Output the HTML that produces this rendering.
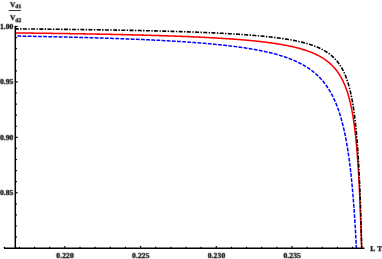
<!DOCTYPE html>
<html><head><meta charset="utf-8"><title>Plot</title>
<style>
html,body{margin:0;padding:0;background:#fff;}
body{width:382px;height:259px;overflow:hidden;position:relative;font-family:"Liberation Serif",serif;}
</style></head>
<body>
<svg width="382" height="259" viewBox="0 0 382 259" style="position:absolute;left:0;top:0">
<defs><filter id="soft" x="-5%" y="-20%" width="110%" height="140%"><feConvolveMatrix order="3" kernelMatrix="0.1 0.8 0.1 0.8 8 0.8 0.1 0.8 0.1" divisor="11.6" edgeMode="none" preserveAlpha="false"/></filter></defs>
<rect width="382" height="259" fill="#fff"/>
<path d="M15.30,32.92 L16.32,32.93 L17.35,32.95 L18.37,32.96 L19.39,32.97 L20.42,32.98 L21.44,32.99 L22.46,33.00 L23.48,33.02 L24.51,33.03 L25.53,33.04 L26.55,33.05 L27.58,33.06 L28.60,33.08 L29.62,33.09 L30.65,33.10 L31.67,33.11 L32.69,33.13 L33.71,33.14 L34.74,33.15 L35.76,33.17 L36.78,33.18 L37.81,33.19 L38.83,33.20 L39.85,33.22 L40.88,33.23 L41.90,33.24 L42.92,33.26 L43.94,33.27 L44.97,33.28 L45.99,33.30 L47.01,33.31 L48.04,33.33 L49.06,33.34 L50.08,33.35 L51.11,33.37 L52.13,33.38 L53.15,33.40 L54.17,33.41 L55.20,33.42 L56.22,33.44 L57.24,33.45 L58.27,33.47 L59.29,33.48 L60.31,33.50 L61.34,33.51 L62.36,33.53 L63.38,33.54 L64.40,33.56 L65.43,33.57 L66.45,33.59 L67.47,33.60 L68.50,33.62 L69.52,33.64 L70.54,33.65 L71.56,33.67 L72.59,33.68 L73.61,33.70 L74.63,33.72 L75.66,33.73 L76.68,33.75 L77.70,33.77 L78.73,33.78 L79.75,33.80 L80.77,33.82 L81.79,33.83 L82.82,33.85 L83.84,33.87 L84.86,33.89 L85.89,33.90 L86.91,33.92 L87.93,33.94 L88.96,33.96 L89.98,33.98 L91.00,33.99 L92.02,34.01 L93.05,34.03 L94.07,34.05 L95.09,34.07 L96.12,34.09 L97.14,34.11 L98.16,34.12 L99.18,34.14 L100.21,34.16 L101.23,34.18 L102.25,34.20 L103.28,34.22 L104.30,34.24 L105.32,34.26 L106.34,34.28 L107.37,34.30 L108.39,34.33 L109.41,34.35 L110.44,34.37 L111.46,34.39 L112.48,34.41 L113.50,34.43 L114.53,34.45 L115.55,34.47 L116.57,34.50 L117.60,34.52 L118.62,34.54 L119.64,34.56 L120.66,34.59 L121.69,34.61 L122.71,34.63 L123.73,34.66 L124.76,34.68 L125.78,34.70 L126.80,34.73 L127.82,34.75 L128.85,34.78 L129.87,34.80 L130.89,34.82 L131.92,34.85 L132.94,34.87 L133.96,34.90 L134.98,34.93 L136.01,34.95 L137.03,34.98 L138.05,35.00 L139.07,35.03 L140.10,35.06 L141.12,35.08 L142.14,35.11 L143.17,35.14 L144.19,35.17 L145.21,35.19 L146.23,35.22 L147.26,35.25 L148.28,35.28 L149.30,35.31 L150.32,35.34 L151.35,35.37 L152.37,35.40 L153.39,35.43 L154.42,35.46 L155.44,35.49 L156.46,35.52 L157.48,35.55 L158.51,35.58 L159.53,35.61 L160.55,35.64 L161.57,35.68 L162.60,35.71 L163.62,35.74 L164.64,35.77 L165.66,35.81 L166.69,35.84 L167.71,35.88 L168.73,35.91 L169.75,35.95 L170.78,35.98 L171.80,36.02 L172.82,36.05 L173.84,36.09 L174.87,36.13 L175.89,36.16 L176.91,36.20 L177.93,36.24 L178.96,36.28 L179.98,36.32 L181.00,36.36 L182.02,36.39 L183.04,36.43 L184.07,36.48 L185.09,36.52 L186.11,36.56 L187.13,36.60 L188.16,36.64 L189.18,36.68 L190.20,36.73 L191.22,36.77 L192.24,36.81 L193.27,36.86 L194.29,36.90 L195.31,36.95 L196.33,37.00 L197.36,37.04 L198.38,37.09 L199.40,37.14 L200.42,37.19 L201.44,37.24 L202.46,37.29 L203.49,37.34 L204.51,37.39 L205.53,37.44 L206.55,37.49 L207.57,37.54 L208.60,37.60 L209.62,37.65 L210.64,37.70 L211.66,37.76 L212.68,37.82 L213.70,37.87 L214.73,37.93 L215.75,37.99 L216.77,38.05 L217.79,38.11 L218.81,38.17 L219.83,38.23 L220.85,38.29 L221.87,38.36 L222.90,38.42 L223.92,38.48 L224.94,38.55 L225.96,38.62 L226.98,38.68 L228.00,38.75 L229.02,38.82 L230.04,38.89 L231.06,38.96 L232.08,39.04 L233.10,39.11 L234.12,39.19 L235.14,39.26 L236.16,39.34 L237.18,39.42 L238.20,39.50 L239.22,39.58 L240.24,39.66 L241.26,39.74 L242.28,39.83 L243.30,39.91 L244.32,40.00 L245.34,40.09 L246.36,40.18 L247.38,40.27 L248.40,40.36 L249.42,40.46 L250.43,40.55 L251.45,40.65 L252.47,40.75 L253.49,40.85 L254.51,40.95 L255.53,41.06 L256.54,41.17 L257.56,41.27 L258.58,41.38 L259.59,41.50 L260.61,41.61 L261.63,41.73 L262.64,41.85 L263.66,41.97 L264.68,42.09 L265.69,42.22 L266.71,42.34 L267.72,42.47 L268.73,42.61 L269.75,42.74 L270.76,42.88 L271.78,43.02 L272.79,43.17 L273.80,43.31 L274.81,43.46 L275.82,43.62 L276.84,43.77 L277.85,43.93 L278.86,44.10 L279.87,44.26 L280.87,44.43 L281.88,44.61 L282.89,44.79 L283.90,44.97 L284.90,45.16 L285.91,45.35 L286.91,45.54 L287.91,45.74 L288.92,45.95 L289.92,46.16 L290.92,46.37 L291.92,46.59 L292.92,46.82 L293.91,47.05 L294.91,47.29 L295.90,47.53 L296.89,47.78 L297.88,48.04 L298.87,48.30 L299.86,48.57 L300.84,48.85 L301.83,49.13 L302.81,49.42 L303.79,49.73 L304.76,50.03 L305.73,50.35 L306.70,50.68 L307.67,51.01 L308.63,51.36 L309.59,51.71 L310.55,52.08 L311.50,52.46 L312.45,52.84 L313.39,53.24 L314.33,53.65 L315.26,54.07 L316.18,54.51 L317.10,54.95 L318.02,55.41 L318.93,55.89 L319.82,56.37 L320.72,56.88 L321.60,57.39 L322.48,57.92 L323.34,58.47 L324.20,59.03 L325.04,59.60 L325.88,60.19 L326.70,60.80 L327.52,61.42 L328.32,62.06 L329.10,62.71 L329.88,63.38 L330.64,64.06 L331.39,64.76 L332.12,65.47 L332.84,66.20 L333.54,66.95 L334.23,67.70 L334.90,68.47 L335.56,69.26 L336.20,70.05 L336.83,70.86 L337.44,71.69 L338.03,72.52 L338.61,73.36 L339.17,74.22 L339.72,75.08 L340.25,75.96 L340.77,76.84 L341.27,77.73 L341.76,78.63 L342.23,79.54 L342.69,80.45 L343.14,81.37 L343.57,82.30 L343.99,83.23 L344.40,84.17 L344.80,85.11 L345.18,86.06 L345.56,87.01 L345.92,87.97 L346.27,88.93 L346.61,89.89 L346.95,90.86 L347.27,91.83 L347.58,92.80 L347.89,93.78 L348.18,94.76 L348.47,95.74 L348.75,96.73 L349.02,97.71 L349.29,98.70 L349.54,99.69 L349.79,100.68 L350.04,101.68 L350.28,102.67 L350.51,103.67 L350.73,104.67 L350.95,105.67 L351.16,106.67 L351.37,107.67 L351.57,108.67 L351.77,109.67 L351.97,110.68 L352.15,111.68 L352.34,112.69 L352.52,113.70 L352.69,114.71 L352.86,115.71 L353.03,116.72 L353.19,117.73 L353.35,118.74 L353.51,119.76 L353.66,120.77 L353.81,121.78 L353.95,122.79 L354.10,123.81 L354.24,124.82 L354.37,125.83 L354.51,126.85 L354.64,127.86 L354.77,128.88 L354.89,129.89 L355.01,130.91 L355.13,131.92 L355.25,132.94 L355.37,133.96 L355.48,134.97 L355.59,135.99 L355.70,137.01 L355.81,138.03 L355.91,139.04 L356.02,140.06 L356.12,141.08 L356.22,142.10 L356.31,143.12 L356.41,144.13 L356.50,145.15 L356.59,146.17 L356.68,147.19 L356.77,148.21 L356.86,149.23 L356.95,150.25 L357.03,151.27 L357.11,152.29 L357.19,153.31 L357.28,154.33 L357.35,155.35 L357.43,156.37 L357.51,157.39 L357.58,158.41 L357.66,159.43 L357.73,160.45 L357.80,161.47 L357.87,162.49 L357.94,163.51 L358.01,164.53 L358.08,165.55 L358.14,166.57 L358.21,167.60 L358.27,168.62 L358.34,169.64 L358.40,170.66 L358.46,171.68 L358.52,172.70 L358.58,173.72 L358.64,174.74 L358.70,175.77 L358.76,176.79 L358.81,177.81 L358.87,178.83 L358.92,179.85 L358.98,180.87 L359.03,181.90 L359.08,182.92 L359.14,183.94 L359.19,184.96 L359.24,185.98 L359.29,187.00 L359.34,188.03 L359.39,189.05 L359.44,190.07 L359.48,191.09 L359.53,192.11 L359.58,193.14 L359.63,194.16 L359.67,195.18 L359.72,196.20 L359.76,197.22 L359.81,198.25 L359.85,199.27 L359.89,200.29 L359.94,201.31 L359.98,202.34 L360.02,203.36 L360.06,204.38 L360.10,205.40 L360.14,206.42 L360.18,207.45 L360.22,208.47 L360.26,209.49 L360.30,210.51 L360.34,211.54 L360.38,212.56 L360.42,213.58 L360.46,214.60 L360.50,215.63 L360.53,216.65 L360.57,217.67 L360.61,218.69 L360.64,219.72 L360.68,220.74 L360.72,221.76 L360.75,222.78 L360.79,223.80 L360.82,224.83 L360.86,225.85 L360.90,226.87 L360.93,227.89 L360.97,228.92 L361.00,229.94 L361.04,230.96 L361.07,231.98 L361.11,233.01 L361.14,234.03 L361.18,235.05 L361.21,236.07 L361.25,237.10 L361.28,238.12 L361.32,239.14 L361.36,240.16 L361.39,241.19 L361.43,242.21 L361.47,243.23 L361.51,244.25 L361.55,245.28 L361.59,246.30 L361.63,247.32 L361.68,248.34" fill="none" stroke="#ff0000" stroke-width="1.55"/>
<path d="M15.30,36.02 L16.28,36.04 L17.26,36.06 L18.24,36.08 L19.22,36.09 L20.20,36.11 L21.19,36.13 L22.17,36.15 L23.15,36.17 L24.13,36.18 L25.11,36.20 L26.09,36.22 L27.07,36.24 L28.05,36.26 L29.03,36.28 L30.01,36.30 L30.99,36.31 L31.98,36.33 L32.96,36.35 L33.94,36.37 L34.92,36.39 L35.90,36.41 L36.88,36.43 L37.86,36.45 L38.84,36.47 L39.82,36.49 L40.80,36.51 L41.78,36.53 L42.76,36.55 L43.75,36.57 L44.73,36.59 L45.71,36.61 L46.69,36.63 L47.67,36.65 L48.65,36.68 L49.63,36.70 L50.61,36.72 L51.59,36.74 L52.57,36.76 L53.55,36.78 L54.54,36.81 L55.52,36.83 L56.50,36.85 L57.48,36.87 L58.46,36.89 L59.44,36.92 L60.42,36.94 L61.40,36.96 L62.38,36.99 L63.36,37.01 L64.34,37.03 L65.32,37.06 L66.30,37.08 L67.29,37.10 L68.27,37.13 L69.25,37.15 L70.23,37.18 L71.21,37.20 L72.19,37.23 L73.17,37.25 L74.15,37.28 L75.13,37.30 L76.11,37.33 L77.09,37.35 L78.07,37.38 L79.05,37.40 L80.04,37.43 L81.02,37.46 L82.00,37.48 L82.98,37.51 L83.96,37.54 L84.94,37.56 L85.92,37.59 L86.90,37.62 L87.88,37.64 L88.86,37.67 L89.84,37.70 L90.82,37.73 L91.80,37.76 L92.78,37.79 L93.77,37.81 L94.75,37.84 L95.73,37.87 L96.71,37.90 L97.69,37.93 L98.67,37.96 L99.65,37.99 L100.63,38.02 L101.61,38.05 L102.59,38.08 L103.57,38.11 L104.55,38.15 L105.53,38.18 L106.51,38.21 L107.49,38.24 L108.47,38.27 L109.45,38.31 L110.44,38.34 L111.42,38.37 L112.40,38.40 L113.38,38.44 L114.36,38.47 L115.34,38.51 L116.32,38.54 L117.30,38.57 L118.28,38.61 L119.26,38.64 L120.24,38.68 L121.22,38.72 L122.20,38.75 L123.18,38.79 L124.16,38.82 L125.14,38.86 L126.12,38.90 L127.10,38.94 L128.08,38.97 L129.06,39.01 L130.04,39.05 L131.02,39.09 L132.00,39.13 L132.98,39.17 L133.96,39.21 L134.94,39.25 L135.93,39.29 L136.91,39.33 L137.89,39.37 L138.87,39.41 L139.85,39.45 L140.83,39.49 L141.81,39.54 L142.79,39.58 L143.77,39.62 L144.75,39.67 L145.73,39.71 L146.71,39.76 L147.69,39.80 L148.67,39.85 L149.65,39.89 L150.63,39.94 L151.61,39.98 L152.59,40.03 L153.57,40.08 L154.55,40.13 L155.53,40.17 L156.51,40.22 L157.49,40.27 L158.47,40.32 L159.45,40.37 L160.43,40.42 L161.41,40.47 L162.39,40.53 L163.36,40.58 L164.34,40.63 L165.32,40.68 L166.30,40.74 L167.28,40.79 L168.26,40.85 L169.24,40.90 L170.22,40.96 L171.20,41.01 L172.18,41.07 L173.16,41.13 L174.14,41.19 L175.12,41.25 L176.10,41.31 L177.08,41.37 L178.06,41.43 L179.04,41.49 L180.01,41.55 L180.99,41.61 L181.97,41.68 L182.95,41.74 L183.93,41.80 L184.91,41.87 L185.89,41.94 L186.87,42.00 L187.85,42.07 L188.82,42.14 L189.80,42.21 L190.78,42.28 L191.76,42.35 L192.74,42.42 L193.72,42.49 L194.70,42.57 L195.67,42.64 L196.65,42.71 L197.63,42.79 L198.61,42.87 L199.59,42.94 L200.56,43.02 L201.54,43.10 L202.52,43.18 L203.50,43.26 L204.48,43.35 L205.45,43.43 L206.43,43.51 L207.41,43.60 L208.38,43.68 L209.36,43.77 L210.34,43.86 L211.32,43.95 L212.29,44.04 L213.27,44.13 L214.25,44.23 L215.22,44.32 L216.20,44.42 L217.18,44.51 L218.15,44.61 L219.13,44.71 L220.10,44.81 L221.08,44.91 L222.05,45.02 L223.03,45.12 L224.01,45.23 L224.98,45.34 L225.96,45.44 L226.93,45.56 L227.91,45.67 L228.88,45.78 L229.85,45.90 L230.83,46.01 L231.80,46.13 L232.78,46.25 L233.75,46.38 L234.72,46.50 L235.69,46.63 L236.67,46.75 L237.64,46.88 L238.61,47.02 L239.58,47.15 L240.56,47.29 L241.53,47.42 L242.50,47.56 L243.47,47.71 L244.44,47.85 L245.41,48.00 L246.38,48.15 L247.35,48.30 L248.32,48.45 L249.29,48.61 L250.25,48.77 L251.22,48.93 L252.19,49.09 L253.16,49.26 L254.12,49.43 L255.09,49.60 L256.05,49.78 L257.02,49.96 L257.98,50.14 L258.94,50.33 L259.91,50.52 L260.87,50.71 L261.83,50.90 L262.79,51.10 L263.75,51.30 L264.71,51.51 L265.67,51.72 L266.63,51.93 L267.58,52.15 L268.54,52.37 L269.49,52.60 L270.45,52.83 L271.40,53.06 L272.35,53.30 L273.30,53.55 L274.25,53.79 L275.20,54.05 L276.15,54.31 L277.09,54.57 L278.03,54.84 L278.98,55.11 L279.92,55.39 L280.85,55.68 L281.79,55.97 L282.73,56.27 L283.66,56.57 L284.59,56.88 L285.52,57.19 L286.45,57.52 L287.37,57.85 L288.29,58.18 L289.21,58.53 L290.13,58.88 L291.04,59.23 L291.95,59.60 L292.86,59.97 L293.76,60.36 L294.66,60.74 L295.56,61.14 L296.45,61.55 L297.34,61.96 L298.23,62.39 L299.11,62.82 L299.98,63.26 L300.85,63.71 L301.72,64.18 L302.58,64.65 L303.43,65.13 L304.28,65.62 L305.13,66.12 L305.97,66.63 L306.80,67.15 L307.62,67.68 L308.44,68.22 L309.25,68.78 L310.05,69.34 L310.85,69.91 L311.64,70.50 L312.42,71.09 L313.19,71.70 L313.95,72.32 L314.70,72.95 L315.45,73.59 L316.18,74.23 L316.91,74.89 L317.63,75.56 L318.33,76.25 L319.03,76.94 L319.71,77.64 L320.39,78.35 L321.06,79.07 L321.71,79.80 L322.36,80.54 L322.99,81.29 L323.61,82.05 L324.22,82.81 L324.83,83.59 L325.42,84.37 L326.00,85.16 L326.57,85.96 L327.13,86.77 L327.67,87.58 L328.21,88.40 L328.74,89.23 L329.26,90.06 L329.76,90.90 L330.26,91.75 L330.75,92.60 L331.22,93.46 L331.69,94.32 L332.15,95.19 L332.60,96.06 L333.04,96.94 L333.47,97.82 L333.89,98.70 L334.30,99.59 L334.71,100.49 L335.10,101.39 L335.49,102.29 L335.87,103.19 L336.24,104.10 L336.61,105.01 L336.96,105.92 L337.31,106.84 L337.65,107.76 L337.99,108.68 L338.32,109.61 L338.64,110.53 L338.96,111.46 L339.27,112.39 L339.57,113.33 L339.87,114.26 L340.16,115.20 L340.44,116.14 L340.72,117.08 L341.00,118.02 L341.27,118.96 L341.53,119.91 L341.79,120.85 L342.04,121.80 L342.29,122.75 L342.54,123.70 L342.78,124.65 L343.01,125.60 L343.25,126.56 L343.47,127.51 L343.70,128.47 L343.92,129.42 L344.13,130.38 L344.34,131.34 L344.55,132.30 L344.75,133.26 L344.96,134.22 L345.15,135.18 L345.35,136.14 L345.54,137.10 L345.72,138.06 L345.91,139.03 L346.09,139.99 L346.27,140.96 L346.44,141.92 L346.61,142.89 L346.78,143.86 L346.95,144.82 L347.11,145.79 L347.28,146.76 L347.44,147.72 L347.59,148.69 L347.75,149.66 L347.90,150.63 L348.05,151.60 L348.19,152.57 L348.34,153.54 L348.48,154.51 L348.62,155.48 L348.76,156.45 L348.90,157.43 L349.03,158.40 L349.16,159.37 L349.29,160.34 L349.42,161.31 L349.55,162.29 L349.68,163.26 L349.80,164.23 L349.92,165.21 L350.04,166.18 L350.16,167.16 L350.28,168.13 L350.39,169.10 L350.50,170.08 L350.62,171.05 L350.73,172.03 L350.84,173.00 L350.94,173.98 L351.05,174.95 L351.16,175.93 L351.26,176.90 L351.36,177.88 L351.46,178.86 L351.56,179.83 L351.66,180.81 L351.76,181.78 L351.85,182.76 L351.95,183.74 L352.04,184.71 L352.13,185.69 L352.23,186.67 L352.32,187.64 L352.41,188.62 L352.49,189.60 L352.58,190.57 L352.67,191.55 L352.75,192.53 L352.84,193.51 L352.92,194.48 L353.00,195.46 L353.08,196.44 L353.16,197.42 L353.24,198.40 L353.32,199.37 L353.40,200.35 L353.48,201.33 L353.55,202.31 L353.63,203.29 L353.70,204.26 L353.78,205.24 L353.85,206.22 L353.92,207.20 L353.99,208.18 L354.06,209.16 L354.13,210.13 L354.20,211.11 L354.27,212.09 L354.34,213.07 L354.41,214.05 L354.47,215.03 L354.54,216.01 L354.60,216.99 L354.67,217.96 L354.73,218.94 L354.80,219.92 L354.86,220.90 L354.92,221.88 L354.98,222.86 L355.04,223.84 L355.10,224.82 L355.16,225.80 L355.22,226.78 L355.28,227.76 L355.34,228.74 L355.40,229.72 L355.45,230.69 L355.51,231.67 L355.57,232.65 L355.62,233.63 L355.68,234.61 L355.73,235.59 L355.79,236.57 L355.84,237.55 L355.89,238.53 L355.95,239.51 L356.00,240.49 L356.05,241.47 L356.10,242.45 L356.15,243.43 L356.20,244.41 L356.25,245.39 L356.30,246.37 L356.35,247.35 L356.40,248.33" fill="none" stroke="#0000ff" stroke-width="1.5" stroke-dasharray="3.8 1.35" stroke-dashoffset="3.0"/>
<path d="M15.30,28.86 L16.34,28.87 L17.38,28.88 L18.42,28.89 L19.46,28.90 L20.50,28.91 L21.54,28.91 L22.58,28.92 L23.62,28.93 L24.66,28.94 L25.69,28.95 L26.73,28.96 L27.77,28.97 L28.81,28.98 L29.85,28.99 L30.89,29.00 L31.93,29.01 L32.97,29.02 L34.01,29.03 L35.05,29.04 L36.09,29.05 L37.13,29.06 L38.17,29.07 L39.21,29.08 L40.25,29.09 L41.29,29.10 L42.33,29.11 L43.37,29.12 L44.40,29.13 L45.44,29.14 L46.48,29.15 L47.52,29.17 L48.56,29.18 L49.60,29.19 L50.64,29.20 L51.68,29.21 L52.72,29.22 L53.76,29.23 L54.80,29.24 L55.84,29.26 L56.88,29.27 L57.92,29.28 L58.96,29.29 L60.00,29.30 L61.04,29.31 L62.08,29.33 L63.11,29.34 L64.15,29.35 L65.19,29.36 L66.23,29.38 L67.27,29.39 L68.31,29.40 L69.35,29.41 L70.39,29.43 L71.43,29.44 L72.47,29.45 L73.51,29.47 L74.55,29.48 L75.59,29.49 L76.63,29.51 L77.67,29.52 L78.71,29.53 L79.75,29.55 L80.78,29.56 L81.82,29.57 L82.86,29.59 L83.90,29.60 L84.94,29.62 L85.98,29.63 L87.02,29.64 L88.06,29.66 L89.10,29.67 L90.14,29.69 L91.18,29.70 L92.22,29.72 L93.26,29.73 L94.30,29.75 L95.34,29.76 L96.38,29.78 L97.41,29.80 L98.45,29.81 L99.49,29.83 L100.53,29.84 L101.57,29.86 L102.61,29.88 L103.65,29.89 L104.69,29.91 L105.73,29.93 L106.77,29.94 L107.81,29.96 L108.85,29.98 L109.89,29.99 L110.93,30.01 L111.97,30.03 L113.01,30.05 L114.04,30.06 L115.08,30.08 L116.12,30.10 L117.16,30.12 L118.20,30.14 L119.24,30.16 L120.28,30.17 L121.32,30.19 L122.36,30.21 L123.40,30.23 L124.44,30.25 L125.48,30.27 L126.52,30.29 L127.56,30.31 L128.60,30.33 L129.63,30.35 L130.67,30.37 L131.71,30.39 L132.75,30.41 L133.79,30.43 L134.83,30.45 L135.87,30.48 L136.91,30.50 L137.95,30.52 L138.99,30.54 L140.03,30.56 L141.07,30.59 L142.11,30.61 L143.15,30.63 L144.18,30.65 L145.22,30.68 L146.26,30.70 L147.30,30.72 L148.34,30.75 L149.38,30.77 L150.42,30.80 L151.46,30.82 L152.50,30.85 L153.54,30.87 L154.58,30.90 L155.62,30.92 L156.65,30.95 L157.69,30.97 L158.73,31.00 L159.77,31.03 L160.81,31.05 L161.85,31.08 L162.89,31.11 L163.93,31.14 L164.97,31.17 L166.01,31.19 L167.05,31.22 L168.09,31.25 L169.12,31.28 L170.16,31.31 L171.20,31.34 L172.24,31.37 L173.28,31.40 L174.32,31.43 L175.36,31.46 L176.40,31.49 L177.44,31.52 L178.48,31.56 L179.51,31.59 L180.55,31.62 L181.59,31.66 L182.63,31.69 L183.67,31.72 L184.71,31.76 L185.75,31.79 L186.79,31.83 L187.83,31.86 L188.87,31.90 L189.90,31.93 L190.94,31.97 L191.98,32.01 L193.02,32.05 L194.06,32.08 L195.10,32.12 L196.14,32.16 L197.18,32.20 L198.21,32.24 L199.25,32.28 L200.29,32.32 L201.33,32.36 L202.37,32.40 L203.41,32.45 L204.45,32.49 L205.49,32.53 L206.52,32.58 L207.56,32.62 L208.60,32.67 L209.64,32.71 L210.68,32.76 L211.72,32.80 L212.75,32.85 L213.79,32.90 L214.83,32.95 L215.87,33.00 L216.91,33.05 L217.95,33.10 L218.98,33.15 L220.02,33.20 L221.06,33.25 L222.10,33.31 L223.14,33.36 L224.18,33.42 L225.21,33.47 L226.25,33.53 L227.29,33.59 L228.33,33.64 L229.36,33.70 L230.40,33.76 L231.44,33.82 L232.48,33.88 L233.52,33.95 L234.55,34.01 L235.59,34.08 L236.63,34.14 L237.67,34.21 L238.70,34.27 L239.74,34.34 L240.78,34.41 L241.81,34.48 L242.85,34.55 L243.89,34.63 L244.93,34.70 L245.96,34.78 L247.00,34.85 L248.04,34.93 L249.07,35.01 L250.11,35.09 L251.14,35.17 L252.18,35.26 L253.22,35.34 L254.25,35.43 L255.29,35.51 L256.32,35.60 L257.36,35.69 L258.39,35.79 L259.43,35.88 L260.47,35.98 L261.50,36.07 L262.53,36.17 L263.57,36.27 L264.60,36.38 L265.64,36.48 L266.67,36.59 L267.71,36.70 L268.74,36.81 L269.77,36.93 L270.81,37.04 L271.84,37.16 L272.87,37.28 L273.90,37.41 L274.93,37.53 L275.97,37.66 L277.00,37.79 L278.03,37.93 L279.06,38.07 L280.09,38.21 L281.12,38.35 L282.15,38.50 L283.17,38.65 L284.20,38.81 L285.23,38.96 L286.26,39.13 L287.28,39.29 L288.31,39.46 L289.33,39.64 L290.36,39.82 L291.38,40.00 L292.40,40.19 L293.42,40.38 L294.44,40.58 L295.46,40.78 L296.48,40.99 L297.50,41.21 L298.51,41.43 L299.53,41.66 L300.54,41.89 L301.55,42.13 L302.56,42.38 L303.57,42.63 L304.58,42.90 L305.58,43.17 L306.58,43.45 L307.58,43.73 L308.58,44.03 L309.57,44.34 L310.56,44.65 L311.55,44.98 L312.53,45.32 L313.51,45.67 L314.48,46.03 L315.45,46.40 L316.42,46.78 L317.38,47.18 L318.34,47.59 L319.28,48.01 L320.23,48.45 L321.16,48.91 L322.09,49.38 L323.01,49.86 L323.92,50.37 L324.82,50.88 L325.71,51.42 L326.59,51.97 L327.46,52.55 L328.31,53.14 L329.16,53.74 L329.99,54.37 L330.80,55.02 L331.60,55.68 L332.39,56.36 L333.15,57.06 L333.91,57.78 L334.64,58.51 L335.36,59.27 L336.06,60.04 L336.74,60.82 L337.40,61.62 L338.04,62.44 L338.67,63.27 L339.27,64.11 L339.86,64.97 L340.43,65.84 L340.99,66.72 L341.52,67.61 L342.04,68.51 L342.54,69.43 L343.02,70.35 L343.49,71.27 L343.94,72.21 L344.38,73.15 L344.80,74.10 L345.21,75.06 L345.61,76.02 L345.99,76.99 L346.36,77.96 L346.72,78.93 L347.06,79.91 L347.40,80.90 L347.72,81.89 L348.04,82.88 L348.34,83.87 L348.63,84.87 L348.92,85.87 L349.20,86.87 L349.47,87.87 L349.73,88.88 L349.98,89.89 L350.22,90.90 L350.46,91.91 L350.69,92.92 L350.92,93.94 L351.14,94.95 L351.35,95.97 L351.56,96.99 L351.76,98.01 L351.96,99.03 L352.15,100.05 L352.34,101.07 L352.52,102.10 L352.69,103.12 L352.87,104.15 L353.03,105.17 L353.20,106.20 L353.36,107.23 L353.52,108.25 L353.67,109.28 L353.82,110.31 L353.96,111.34 L354.11,112.37 L354.25,113.40 L354.38,114.43 L354.52,115.46 L354.65,116.49 L354.78,117.52 L354.90,118.56 L355.02,119.59 L355.14,120.62 L355.26,121.65 L355.38,122.69 L355.49,123.72 L355.60,124.75 L355.71,125.79 L355.82,126.82 L355.92,127.86 L356.02,128.89 L356.12,129.92 L356.22,130.96 L356.32,131.99 L356.41,133.03 L356.51,134.06 L356.60,135.10 L356.69,136.14 L356.78,137.17 L356.86,138.21 L356.95,139.24 L357.03,140.28 L357.12,141.32 L357.20,142.35 L357.28,143.39 L357.36,144.42 L357.43,145.46 L357.51,146.50 L357.59,147.53 L357.66,148.57 L357.73,149.61 L357.80,150.65 L357.87,151.68 L357.94,152.72 L358.01,153.76 L358.08,154.79 L358.15,155.83 L358.21,156.87 L358.28,157.91 L358.34,158.94 L358.40,159.98 L358.46,161.02 L358.53,162.06 L358.59,163.10 L358.64,164.13 L358.70,165.17 L358.76,166.21 L358.82,167.25 L358.87,168.28 L358.93,169.32 L358.98,170.36 L359.04,171.40 L359.09,172.44 L359.14,173.48 L359.20,174.51 L359.25,175.55 L359.30,176.59 L359.35,177.63 L359.40,178.67 L359.45,179.70 L359.49,180.74 L359.54,181.78 L359.59,182.82 L359.63,183.86 L359.68,184.90 L359.73,185.94 L359.77,186.97 L359.81,188.01 L359.86,189.05 L359.90,190.09 L359.94,191.13 L359.99,192.17 L360.03,193.21 L360.07,194.24 L360.11,195.28 L360.15,196.32 L360.19,197.36 L360.23,198.40 L360.27,199.44 L360.31,200.48 L360.35,201.52 L360.39,202.55 L360.42,203.59 L360.46,204.63 L360.50,205.67 L360.53,206.71 L360.57,207.75 L360.60,208.79 L360.64,209.83 L360.68,210.87 L360.71,211.90 L360.74,212.94 L360.78,213.98 L360.81,215.02 L360.84,216.06 L360.88,217.10 L360.91,218.14 L360.94,219.18 L360.97,220.22 L361.01,221.26 L361.04,222.29 L361.07,223.33 L361.10,224.37 L361.13,225.41 L361.16,226.45 L361.19,227.49 L361.22,228.53 L361.25,229.57 L361.28,230.61 L361.31,231.65 L361.34,232.68 L361.36,233.72 L361.39,234.76 L361.42,235.80 L361.45,236.84 L361.48,237.88 L361.50,238.92 L361.53,239.96 L361.56,241.00 L361.58,242.04 L361.61,243.08 L361.64,244.12 L361.66,245.15 L361.69,246.19 L361.71,247.23 L361.74,248.27" fill="none" stroke="#000" stroke-width="1.6" stroke-dasharray="4.0 1.4 1.4 1.4" stroke-dashoffset="0.6"/>
<g stroke="#000" stroke-width="1.5" fill="none">
<line x1="4.0" y1="248.3" x2="364.5" y2="248.3"/>
<line x1="15.3" y1="25.8" x2="15.3" y2="248.3"/>
</g>
<g stroke="#000" stroke-width="1.15" fill="none">
<line x1="4.30" y1="248.3" x2="4.30" y2="246.80"/>
<line x1="19.44" y1="248.3" x2="19.44" y2="246.80"/>
<line x1="34.58" y1="248.3" x2="34.58" y2="246.80"/>
<line x1="49.72" y1="248.3" x2="49.72" y2="246.80"/>
<line x1="64.86" y1="248.3" x2="64.86" y2="245.90"/>
<line x1="80.00" y1="248.3" x2="80.00" y2="246.80"/>
<line x1="95.14" y1="248.3" x2="95.14" y2="246.80"/>
<line x1="110.28" y1="248.3" x2="110.28" y2="246.80"/>
<line x1="125.42" y1="248.3" x2="125.42" y2="246.80"/>
<line x1="140.56" y1="248.3" x2="140.56" y2="245.90"/>
<line x1="155.70" y1="248.3" x2="155.70" y2="246.80"/>
<line x1="170.84" y1="248.3" x2="170.84" y2="246.80"/>
<line x1="185.98" y1="248.3" x2="185.98" y2="246.80"/>
<line x1="201.12" y1="248.3" x2="201.12" y2="246.80"/>
<line x1="216.26" y1="248.3" x2="216.26" y2="245.90"/>
<line x1="231.40" y1="248.3" x2="231.40" y2="246.80"/>
<line x1="246.54" y1="248.3" x2="246.54" y2="246.80"/>
<line x1="261.68" y1="248.3" x2="261.68" y2="246.80"/>
<line x1="276.82" y1="248.3" x2="276.82" y2="246.80"/>
<line x1="291.96" y1="248.3" x2="291.96" y2="245.90"/>
<line x1="307.10" y1="248.3" x2="307.10" y2="246.80"/>
<line x1="322.24" y1="248.3" x2="322.24" y2="246.80"/>
<line x1="337.38" y1="248.3" x2="337.38" y2="246.80"/>
<line x1="352.52" y1="248.3" x2="352.52" y2="246.80"/>
<line x1="15.3" y1="248.20" x2="17.7" y2="248.20"/>
<line x1="15.3" y1="237.11" x2="16.900000000000002" y2="237.11"/>
<line x1="15.3" y1="226.03" x2="16.900000000000002" y2="226.03"/>
<line x1="15.3" y1="214.94" x2="16.900000000000002" y2="214.94"/>
<line x1="15.3" y1="203.86" x2="16.900000000000002" y2="203.86"/>
<line x1="15.3" y1="192.77" x2="17.7" y2="192.77"/>
<line x1="15.3" y1="181.69" x2="16.900000000000002" y2="181.69"/>
<line x1="15.3" y1="170.60" x2="16.900000000000002" y2="170.60"/>
<line x1="15.3" y1="159.52" x2="16.900000000000002" y2="159.52"/>
<line x1="15.3" y1="148.44" x2="16.900000000000002" y2="148.44"/>
<line x1="15.3" y1="137.35" x2="17.7" y2="137.35"/>
<line x1="15.3" y1="126.27" x2="16.900000000000002" y2="126.27"/>
<line x1="15.3" y1="115.18" x2="16.900000000000002" y2="115.18"/>
<line x1="15.3" y1="104.09" x2="16.900000000000002" y2="104.09"/>
<line x1="15.3" y1="93.01" x2="16.900000000000002" y2="93.01"/>
<line x1="15.3" y1="81.92" x2="17.7" y2="81.92"/>
<line x1="15.3" y1="70.84" x2="16.900000000000002" y2="70.84"/>
<line x1="15.3" y1="59.75" x2="16.900000000000002" y2="59.75"/>
<line x1="15.3" y1="48.67" x2="16.900000000000002" y2="48.67"/>
<line x1="15.3" y1="37.59" x2="16.900000000000002" y2="37.59"/>
<line x1="15.3" y1="26.50" x2="17.7" y2="26.50"/>
</g>
<g font-family="Liberation Serif, serif" font-weight="bold" text-rendering="geometricPrecision" font-size="7.6" fill="#000" stroke="#000" stroke-width="0.3" filter="url(#soft)">
<text transform="translate(65.11,257.6) scale(1.0,1)" text-anchor="middle" letter-spacing="0.1">0.220</text>
<text transform="translate(140.81,257.6) scale(1.0,1)" text-anchor="middle" letter-spacing="0.1">0.225</text>
<text transform="translate(216.51,257.6) scale(1.0,1)" text-anchor="middle" letter-spacing="0.1">0.230</text>
<text transform="translate(292.21,257.6) scale(1.0,1)" text-anchor="middle" letter-spacing="0.1">0.235</text>
<text transform="translate(13.3,195.28) scale(1.0,1)" text-anchor="end" letter-spacing="0.02">0.85</text>
<text transform="translate(13.3,139.85) scale(1.0,1)" text-anchor="end" letter-spacing="0.02">0.90</text>
<text transform="translate(13.3,84.43) scale(1.0,1)" text-anchor="end" letter-spacing="0.02">0.95</text>
<text transform="translate(13.3,29.00) scale(1.0,1)" text-anchor="end" letter-spacing="0.02">1.00</text>
<text x="370.3" y="251.0" font-size="7.4">L</text><text x="377.2" y="251.0" font-size="7.4">T</text>
<text x="10.0" y="6.5" font-size="7.4">V<tspan font-size="5.5" dy="1.4">d1</tspan></text>
<text x="10.0" y="20.3" font-size="7.4">V<tspan font-size="5.5" dy="1.6">d2</tspan></text>
</g>
<line x1="8.7" y1="10.5" x2="20.9" y2="10.5" stroke="#000" stroke-width="0.8"/>
</svg>
</body></html>
